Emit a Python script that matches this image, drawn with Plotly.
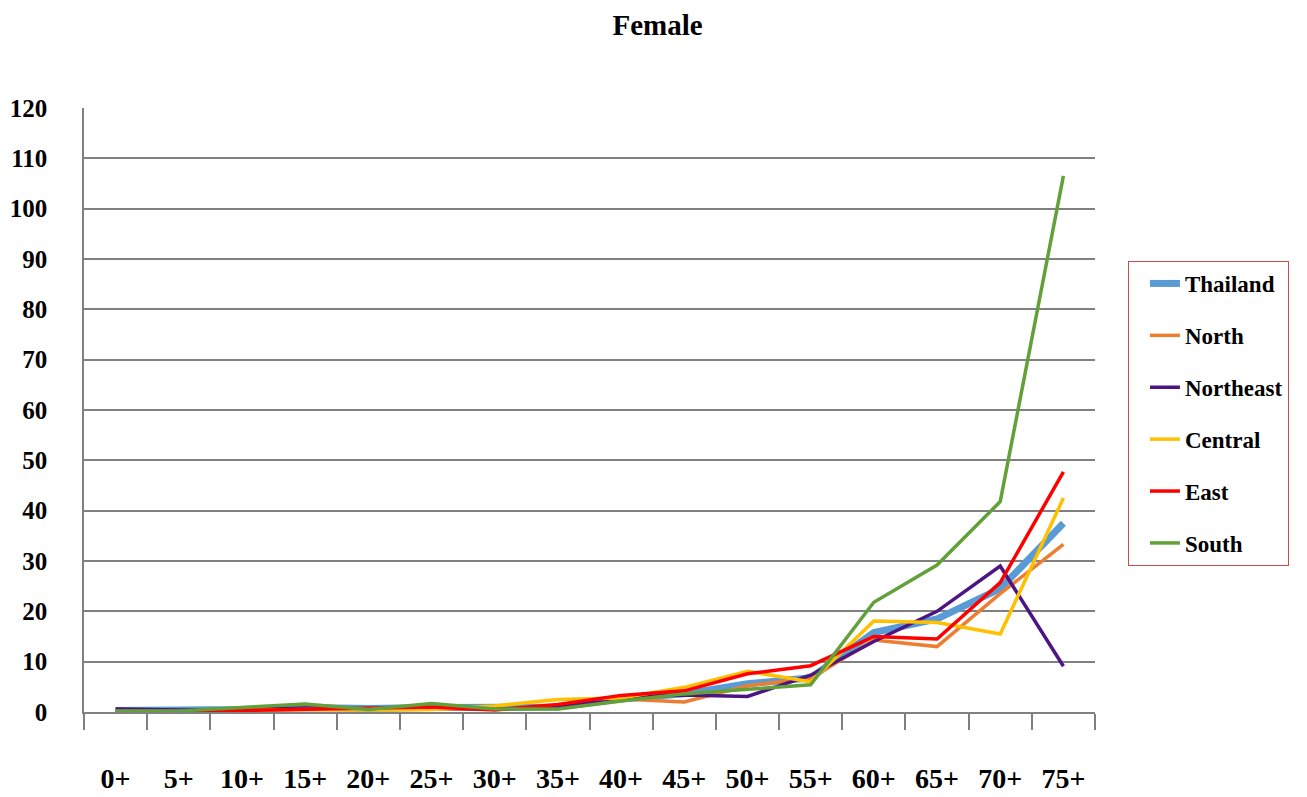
import plotly.graph_objects as go

categories = ["0+", "5+", "10+", "15+", "20+", "25+", "30+", "35+",
              "40+", "45+", "50+", "55+", "60+", "65+", "70+", "75+"]

thailand = [0.3, 0.3, 0.5, 0.9, 0.7, 0.9, 0.8, 1.0, 2.6, 3.6, 5.6, 6.8, 15.8, 18.5, 24.5, 37.5]
north = [0.1, 0.1, 0.4, 0.7, 0.6, 0.6, 0.6, 0.8, 2.6, 2.0, 5.2, 6.7, 14.3, 13.0, 23.5, 33.3]
northeast = [0.6, 0.4, 0.5, 0.8, 0.6, 0.8, 0.6, 0.9, 3.0, 3.4, 3.1, 7.3, 14.0, 20.0, 29.0, 9.1]
central = [0.1, 0.1, 0.3, 0.5, 0.4, 0.5, 1.2, 2.5, 2.8, 4.9, 8.1, 6.0, 18.1, 17.8, 15.5, 42.5]
east = [0.0, 0.0, 0.3, 0.5, 0.7, 1.0, 0.4, 1.5, 3.3, 4.2, 7.6, 9.2, 15.0, 14.5, 25.7, 47.7]
south = [0.2, 0.2, 0.9, 1.6, 0.5, 1.7, 0.6, 0.6, 2.2, 3.6, 4.5, 5.4, 21.8, 29.2, 41.8, 106.5]

series = [
    ("Thailand", thailand, "#5B9BD5", 7),
    ("North", north, "#ED7D31", 3.5),
    ("Northeast", northeast, "#4B1584", 3.5),
    ("Central", central, "#FFC000", 3.5),
    ("East", east, "#FF0000", 3.5),
    ("South", south, "#62A03A", 3.5),
]

font_family = "Liberation Serif, Times New Roman, serif"

fig = go.Figure()
for name, vals, color, w in series:
    fig.add_trace(go.Scatter(
        x=categories, y=vals, name="<b>" + name + "</b>", mode="lines",
        line=dict(color=color, width=w),
        legendgroup=name,
    ))

fig.update_layout(
    width=1307, height=797,
    paper_bgcolor="white", plot_bgcolor="white",
    margin=dict(l=76, r=220, t=100, b=93, autoexpand=False),
    title=dict(text="<b>Female</b>", x=0.497, xanchor="center", y=0.979, yanchor="middle",
               font=dict(family=font_family, size=29, color="black")),
    font=dict(family=font_family, color="black"),
    showlegend=True,
    legend=dict(
        x=1.0326, xanchor="left", y=0.7467, yanchor="top",
        bordercolor="#C0504D", borderwidth=1, bgcolor="white",
        font=dict(family=font_family, size=23, color="black"),
        tracegroupgap=19,
        itemwidth=30,
        indentation=16,
    ),
    xaxis=dict(
        type="category",
        range=[-0.5, 15.5],
        automargin=False,
        showgrid=False,
        showline=True, linecolor="#808080", linewidth=1.5,
        ticks="outside", tickson="boundaries", ticklen=16, tickcolor="#808080", tickwidth=1.5,
        tickfont=dict(family=font_family, size=28, color="black"),
        ticklabelstandoff=41,
        tickprefix="<b>", ticksuffix="</b>",
    ),
    yaxis=dict(
        range=[0, 120], dtick=10,
        automargin=False,
        showgrid=True, gridcolor="#808080", gridwidth=1.5,
        showline=True, linecolor="#808080", linewidth=1.5,
        zeroline=False,
        ticks="",
        tickfont=dict(family=font_family, size=25, color="black"),
        ticklabelstandoff=30,
        tickprefix="<b>", ticksuffix="</b>",
    ),
)

fig.write_html("out.html")
